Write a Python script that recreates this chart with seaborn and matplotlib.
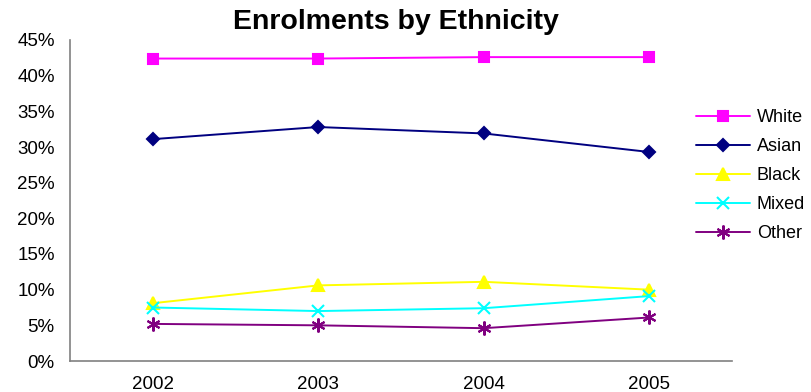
import matplotlib
matplotlib.use("Agg")
import matplotlib.pyplot as plt
import seaborn as sns
import pandas as pd
from matplotlib.ticker import FuncFormatter, FixedLocator
from matplotlib.lines import Line2D

years = ["2002", "2003", "2004", "2005"]
white = [42.4, 42.4, 42.6, 42.6]
asian = [31.1, 32.8, 31.9, 29.3]
black = [8.1, 10.6, 11.1, 10.0]
mixed = [7.5, 7.0, 7.4, 9.1]
other = [5.2, 5.0, 4.6, 6.1]

groups = ["White", "Asian", "Black", "Mixed", "Other"]
series = [white, asian, black, mixed, other]
colors = ["#FF00FF", "#000080", "#FFFF00", "#00FFFF", "#800080"]
markers = ["s", "D", "^", "x", (6, 2, 0)]
sizes = [7, 6.5, 8, 8, 10]

rows = []
for g, vals in zip(groups, series):
    for i, v in enumerate(vals):
        rows.append({"group": g, "pos": i, "year": years[i], "value": v})
df = pd.DataFrame(rows)

sns.set_style("white")
plt.rcParams["font.family"] = ["Liberation Sans", "DejaVu Sans"]
plt.rcParams["text.color"] = "black"
plt.rcParams["xtick.color"] = "black"
plt.rcParams["ytick.color"] = "black"

fig = plt.figure(figsize=(8.11, 3.92), dpi=100)
ax = fig.add_axes([70 / 811, 31 / 392, (732 - 70) / 811, (361 - 40) / 392])

for g, c, m, s in zip(groups, colors, markers, sizes):
    sub = df[df["group"] == g]
    sns.lineplot(data=sub, x="pos", y="value", ax=ax, color=c, marker=m,
                 markersize=s, markeredgecolor=c, markerfacecolor=c,
                 markeredgewidth=1.5, linewidth=1.4, label=g, legend=False)

ax.set_xlim(-0.5, 3.5)
ax.set_ylim(0, 45)
ax.set_yticks(range(0, 46, 5))
ax.yaxis.set_major_formatter(FuncFormatter(lambda v, p: f"{int(v)}%"))

# category boundaries carry the tick marks, centres carry the labels
ax.xaxis.set_major_locator(FixedLocator([-0.5, 0.5, 1.5, 2.5, 3.5]))
ax.xaxis.set_minor_locator(FixedLocator([0, 1, 2, 3]))
ax.set_xticklabels([])
ax.set_xticklabels(years, minor=True)
ax.tick_params(axis="x", which="major", length=5, width=1, color="#808080", direction="out")
ax.tick_params(axis="x", which="minor", length=0, pad=11, labelsize=13.5, labelcolor="black")
ax.tick_params(axis="y", length=5, width=1, color="#808080", direction="out",
               labelsize=13.5, pad=6, labelcolor="black")

ax.set_xlabel("")
ax.set_ylabel("")
for side in ["top", "right"]:
    ax.spines[side].set_visible(False)
for side in ["left", "bottom"]:
    ax.spines[side].set_color("#808080")
    ax.spines[side].set_linewidth(1.2)

fig.text(396 / 811, 1 - 22 / 392, "Enrolments by Ethnicity", ha="center", va="center",
         fontsize=20.5, fontweight="bold", color="black")

handles = [Line2D([], [], color=c, marker=m, markersize=s, markeredgecolor=c,
                  markerfacecolor=c, markeredgewidth=1.5, linewidth=1.4)
           for c, m, s in zip(colors, markers, sizes)]
fig.legend(handles, groups, loc="upper left", bbox_to_anchor=(689 / 811, 1 - 102 / 392),
           frameon=False, fontsize=13, handlelength=3.0, handletextpad=0.35,
           labelspacing=0.66, borderaxespad=0)

fig.savefig("out.png", dpi=100, facecolor="white")
